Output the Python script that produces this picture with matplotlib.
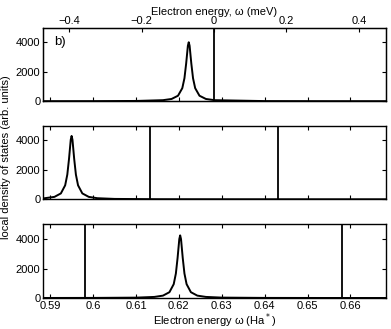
"""Local density of states, three panels.
"""
import numpy as np
import matplotlib
matplotlib.use("Agg")
import matplotlib.pyplot as plt
from matplotlib.ticker import FuncFormatter

plt.rcParams["font.family"] = ["Liberation Sans", "DejaVu Sans"]
plt.rcParams["font.size"] = 8


#### Data.
# top panel
top_x = [0.5884, 0.600, 0.610, 0.6163, 0.6183, 0.6198, 0.6208, 0.6213, 0.6217,
         0.6221, 0.6223, 0.6225, 0.6229, 0.6233, 0.6238, 0.6248, 0.6263, 0.6283,
         0.640, 0.655, 0.6682]
top_y = [2, 5, 17, 70, 152, 372, 885, 1560, 2560,
         3765, 4000, 3765, 2560, 1560, 885, 372, 152, 70,
         8, 2, 1]
top_levels = [0.6282]

# middle panel
mid_x = [0.5884, 0.5910, 0.5925, 0.5935, 0.5940, 0.5944, 0.5948, 0.5950, 0.5952,
         0.5956, 0.5960, 0.5965, 0.5975, 0.5990, 0.6010, 0.6050, 0.615, 0.635,
         0.6682]
mid_y = [62, 165, 400, 950, 1680, 2750, 4045, 4300, 4045,
         2750, 1680, 950, 400, 165, 75, 27, 7, 2,
         1]
mid_levels = [0.6133, 0.6431]

# bottom panel
bot_x = [0.5884, 0.600, 0.610, 0.6143, 0.6163, 0.6178, 0.6188, 0.6193, 0.6197,
         0.6201, 0.6203, 0.6205, 0.6209, 0.6213, 0.6218, 0.6228, 0.6243, 0.6263,
         0.630, 0.640, 0.655, 0.6682]
bot_y = [3, 7, 25, 74, 162, 395, 940, 1660, 2720,
         4000, 4250, 4000, 2720, 1660, 940, 395, 162, 74,
         27, 7, 2, 1]
bot_levels = [0.5982, 0.6581]

x_ticks = [0.59, 0.60, 0.61, 0.62, 0.63, 0.64, 0.65, 0.66]
y_ticks = [0, 2000, 4000]
mev_ticks = [-0.4, -0.2, 0, 0.2, 0.4]

#### Parameters.
XLIM = (0.5884, 0.6682)
YLIM = (0, 5000)
HA_ZERO = 0.6282      # Ha* value at 0 meV
HA_TO_MEV = 11.86
LINE_KW = dict(color="black", linewidth=1.4)
LEVEL_KW = dict(color="black", linewidth=1.3)


def fmt(v, pos):
    return ("%g" % v).replace("-", "\u2212")


def style(ax):
    ax.set_xlim(*XLIM)
    ax.set_ylim(*YLIM)
    ax.set_xticks(x_ticks)
    ax.set_yticks(y_ticks)
    ax.xaxis.set_major_formatter(FuncFormatter(fmt))
    ax.tick_params(axis="both", direction="in", length=3, width=0.8,
                   top=True, right=True, pad=2)
    for sp in ax.spines.values():
        sp.set_linewidth(1.0)


#### Draw.
fig = plt.figure(figsize=(3.91, 3.29), dpi=100)
left, width, height = 0.1107, 0.8757, 0.224
bottoms = [0.6924, 0.3942, 0.0942]
panels = [(top_x, top_y, top_levels),
          (mid_x, mid_y, mid_levels),
          (bot_x, bot_y, bot_levels)]

axes = []
for b, (xs, ys, levels) in zip(bottoms, panels):
    ax = fig.add_axes([left, b, width, height])
    ax.plot(xs, ys, **LINE_KW)
    for lv in levels:
        ax.axvline(lv, **LEVEL_KW)
    style(ax)
    axes.append(ax)

for ax in axes[:2]:
    ax.set_xticklabels([])

axes[-1].set_xlabel("Electron energy \u03c9 (Ha$^*$)", labelpad=0.5)

# top axis in meV
axes[0].tick_params(top=False)
ax2 = axes[0].twiny()
ax2.set_xlim((XLIM[0] - HA_ZERO) * HA_TO_MEV, (XLIM[1] - HA_ZERO) * HA_TO_MEV)
ax2.set_xticks(mev_ticks)
ax2.xaxis.set_major_formatter(FuncFormatter(fmt))
ax2.tick_params(axis="x", direction="in", length=3, width=0.8, pad=1)
ax2.set_xlabel("Electron energy, \u03c9 (meV)", labelpad=1)

axes[0].text(0.031, 0.8, "b)", transform=axes[0].transAxes,
             ha="left", va="center", fontsize=9.5)

fig.text(0.016, 0.523, "local density of states (arb. units)", rotation=90,
         ha="center", va="center", fontsize=8)

#### Export
fig.savefig("out.png", dpi=100)
plt.close()
